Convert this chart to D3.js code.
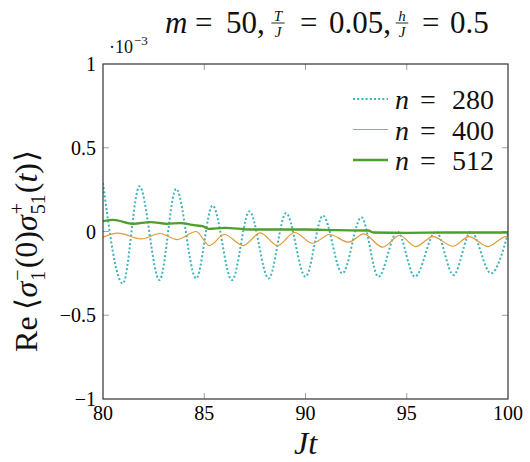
<!DOCTYPE html>
<html>
<head>
<meta charset="utf-8">
<title>Re correlation, n = 280 / 400 / 512</title>
<script src="https://cdnjs.cloudflare.com/ajax/libs/d3/7.8.5/d3.min.js"></script>
<style>
  body { margin: 0; background: #fff; }
  .tick-mark { stroke: #a0a0a0; stroke-width: 1; }
  .frame { fill: none; stroke: #333; stroke-width: 1.2; }
</style>
</head>
<body>
<div id="chart"></div>
<script>
// values in units of 1e-3
var xTicks = [80, 85, 90, 95, 100];
var yTicks = [-1, -0.5, 0, 0.5, 1];
var yTickLabels = ["\u22121", "\u22120.5", "0", "0.5", "1"];
var seriesNames = ["280", "400", "512"];

var t280 = [80.0, 80.98, 81.80, 82.79, 83.61, 84.60, 85.41, 86.37, 87.23, 88.18, 89.04, 90.00,
            90.86, 91.82, 92.76, 93.60, 94.54, 95.40, 96.44, 97.31, 98.17, 99.16, 100];
var v280 = [0.29, -0.31, 0.27, -0.29, 0.255, -0.28, 0.155, -0.29, 0.12, -0.28, 0.11, -0.27,
            0.095, -0.25, 0.085, -0.27, 0.0, -0.27, 0.0, -0.26, 0.0, -0.25, -0.01];

var t400 = [80.0, 80.74, 81.88, 82.82, 83.66, 84.60, 85.25, 85.99, 86.93, 87.77, 88.61, 89.46,
            90.35, 91.19, 92.13, 92.87, 93.81, 94.65, 95.45, 96.29, 97.28, 98.07, 99.01, 99.90, 100];
var v400 = [-0.034, -0.01, -0.044, -0.012, -0.048, 0.0, -0.084, -0.018, -0.084, -0.008, -0.084, -0.006,
            -0.07, -0.018, -0.064, -0.014, -0.093, -0.024, -0.09, -0.03, -0.088, -0.03, -0.09, -0.03, -0.032];

var t512 = [80.0, 80.5, 81.5, 82.35, 83.15, 83.8, 84.6, 84.95, 85.2, 86.0, 87.3, 88.5,
            90.0, 91.5, 93.1, 93.35, 95.0, 97.0, 100];
var v512 = [0.062, 0.07, 0.046, 0.056, 0.046, 0.05, 0.036, 0.03, 0.016, 0.022, 0.012, 0.012,
            0.012, 0.008, 0.006, -0.006, -0.008, -0.006, -0.006];

var schrift = "'Liberation Serif', serif";
var rand = { links: 103, oben: 64, rechts: 22, unten: 63 };
var breite = 530 - rand.links - rand.rechts;
var hoehe = 462 - rand.oben - rand.unten;

var x = d3.scaleLinear().domain([80, 100]).range([0, breite]);
var y = d3.scaleLinear().domain([-1, 1]).range([hoehe, 0]);

var svg = d3.select("#chart").append("svg")
  .attr("width", 530).attr("height", 462);
var g = svg.append("g")
  .attr("transform", "translate(" + rand.links + "," + rand.oben + ")");

g.append("clipPath").attr("id", "clip")
  .append("rect").attr("width", breite).attr("height", hoehe);

// inner tick marks on all four sides
var tl = 6;
xTicks.slice(1, -1).forEach(function (t) {
  g.append("line").attr("class", "tick-mark")
    .attr("x1", x(t)).attr("x2", x(t)).attr("y1", hoehe).attr("y2", hoehe - tl);
  g.append("line").attr("class", "tick-mark")
    .attr("x1", x(t)).attr("x2", x(t)).attr("y1", 0).attr("y2", tl);
});
yTicks.slice(1, -1).forEach(function (t) {
  g.append("line").attr("class", "tick-mark")
    .attr("x1", 0).attr("x2", tl).attr("y1", y(t)).attr("y2", y(t));
  g.append("line").attr("class", "tick-mark")
    .attr("x1", breite).attr("x2", breite - tl).attr("y1", y(t)).attr("y2", y(t));
});

// tick labels
g.selectAll(".xlab").data(xTicks).enter().append("text")
  .attr("x", function (d) { return x(d); })
  .attr("y", hoehe + 21)
  .attr("text-anchor", "middle")
  .style("font-family", schrift)
  .style("font-size", "20px")
  .text(function (d) { return d; });

g.selectAll(".ylab").data(yTicks).enter().append("text")
  .attr("x", -7)
  .attr("y", function (d) { return y(d); })
  .attr("dy", "0.35em")
  .attr("text-anchor", "end")
  .style("font-family", schrift)
  .style("font-size", "20px")
  .text(function (d, i) { return yTickLabels[i]; });

// lines
var linie = function (ts, vs) {
  return d3.line()
    .x(function (d) { return x(d[0]); })
    .y(function (d) { return y(d[1]); })
    .curve(d3.curveMonotoneX)(d3.zip(ts, vs));
};

var styles = [
  { color: "#3db3bf", width: 2, dash: "2,2.2" },
  { color: "#e09a32", width: 1.2, dash: null },
  { color: "#4f9f2c", width: 2.3, dash: null }
];
var daten = [[t280, v280], [t400, v400], [t512, v512]];

var plot = g.append("g").attr("clip-path", "url(#clip)");
daten.forEach(function (d, i) {
  plot.append("path")
    .attr("d", linie(d[0], d[1]))
    .attr("fill", "none")
    .attr("stroke", styles[i].color)
    .attr("stroke-width", styles[i].width)
    .attr("stroke-dasharray", styles[i].dash);
});

g.append("rect").attr("class", "frame").attr("width", breite).attr("height", hoehe);

function txt(parent, s, size, it) {
  return parent.append("text")
    .style("font-family", schrift)
    .style("font-size", size + "px")
    .style("font-style", it ? "italic" : "normal")
    .attr("fill", "#111")
    .text(s);
}

// helper: write a row of math pieces, measuring as we go
function mathRow(parent, x0, y0, pieces) {
  var cx = x0;
  pieces.forEach(function (p) {
    if (p.at != null) cx = p.at;
    if (p.stack) {
      var w = 0;
      p.stack.forEach(function (s) {
        var el = txt(parent, s.t, s.size, s.it).attr("x", cx).attr("y", y0 + s.dy);
        w = Math.max(w, el.node().getComputedTextLength());
      });
      cx += w + (p.gap || 0);
      return;
    }
    var el = txt(parent, p.t, p.size, p.it).attr("x", cx).attr("y", y0 + (p.dy || 0));
    cx += el.node().getComputedTextLength() + (p.gap || 0);
  });
  return cx - x0;
}

function fraction(parent, cxm, base, num, den, size) {
  var a = txt(parent, num, size, true).attr("x", cxm).attr("y", base - 12.5)
    .attr("text-anchor", "middle");
  var b = txt(parent, den, size, true).attr("x", cxm).attr("y", base + 3.5)
    .attr("text-anchor", "middle");
  var w = Math.max(a.node().getComputedTextLength(), b.node().getComputedTextLength()) + 5;
  parent.append("line").attr("x1", cxm - w / 2).attr("x2", cxm + w / 2)
    .attr("y1", base - 10).attr("y2", base - 10)
    .attr("stroke", "#111").attr("stroke-width", 0.9);
}

// title
var titel = svg.append("g");
var base = 33, fs = 31;
mathRow(titel, 0, base, [
  { t: "m", it: true, size: fs, at: 165 },
  { t: "=", size: fs, at: 195 },
  { t: "50,", size: fs, at: 226 },
  { t: "=", size: fs, at: 300 },
  { t: "0.05,", size: fs, at: 329 },
  { t: "=", size: fs, at: 422 },
  { t: "0.5", size: fs, at: 450 }
]);
fraction(titel, 278, base, "T", "J", 15);
fraction(titel, 402, base, "h", "J", 15);

// scale factor
mathRow(svg.append("g"), 109, 53, [
  { t: "\u00b710", size: 18, gap: 1 },
  { t: "\u22123", size: 13, dy: -8 }
]);

// x label
txt(svg, "Jt", 32, true)
  .attr("x", rand.links + breite / 2).attr("y", 454)
  .attr("text-anchor", "middle");

// y label, rotated
var ylab = svg.append("g");
var yw = mathRow(ylab, 0, 0, [
  { t: "Re", size: 32, gap: 6 },
  { t: "\u27e8", size: 31, gap: 1 },
  { t: "\u03c3", size: 32, it: true, gap: 1 },
  { stack: [{ t: "\u2212", size: 20, dy: -13 }, { t: "1", size: 20, dy: 8 }], gap: 1 },
  { t: "(0)", size: 32, gap: 0 },
  { t: "\u03c3", size: 32, it: true, gap: 1 },
  { stack: [{ t: "+", size: 20, dy: -13 }, { t: "51", size: 20, dy: 8 }], gap: 1 },
  { t: "(", size: 32 },
  { t: "t", size: 32, it: true },
  { t: ")", size: 32, gap: 1 },
  { t: "\u27e9", size: 31 }
]);
ylab.attr("transform", "translate(37," + (251 + yw / 2) + ") rotate(-90)");

// legend
var leg = g.append("g");
seriesNames.forEach(function (n, i) {
  var ly = 35 + i * 30.5;
  leg.append("line")
    .attr("x1", 250).attr("x2", 285).attr("y1", ly).attr("y2", ly)
    .attr("stroke", styles[i].color)
    .attr("stroke-width", styles[i].width)
    .attr("stroke-dasharray", styles[i].dash);
  mathRow(leg, 0, ly + 10, [
    { t: "n", it: true, size: 28, at: 292 },
    { t: "=", size: 28, at: 317 },
    { t: n, size: 28, at: 349 }
  ]);
});
</script>
</body>
</html>
